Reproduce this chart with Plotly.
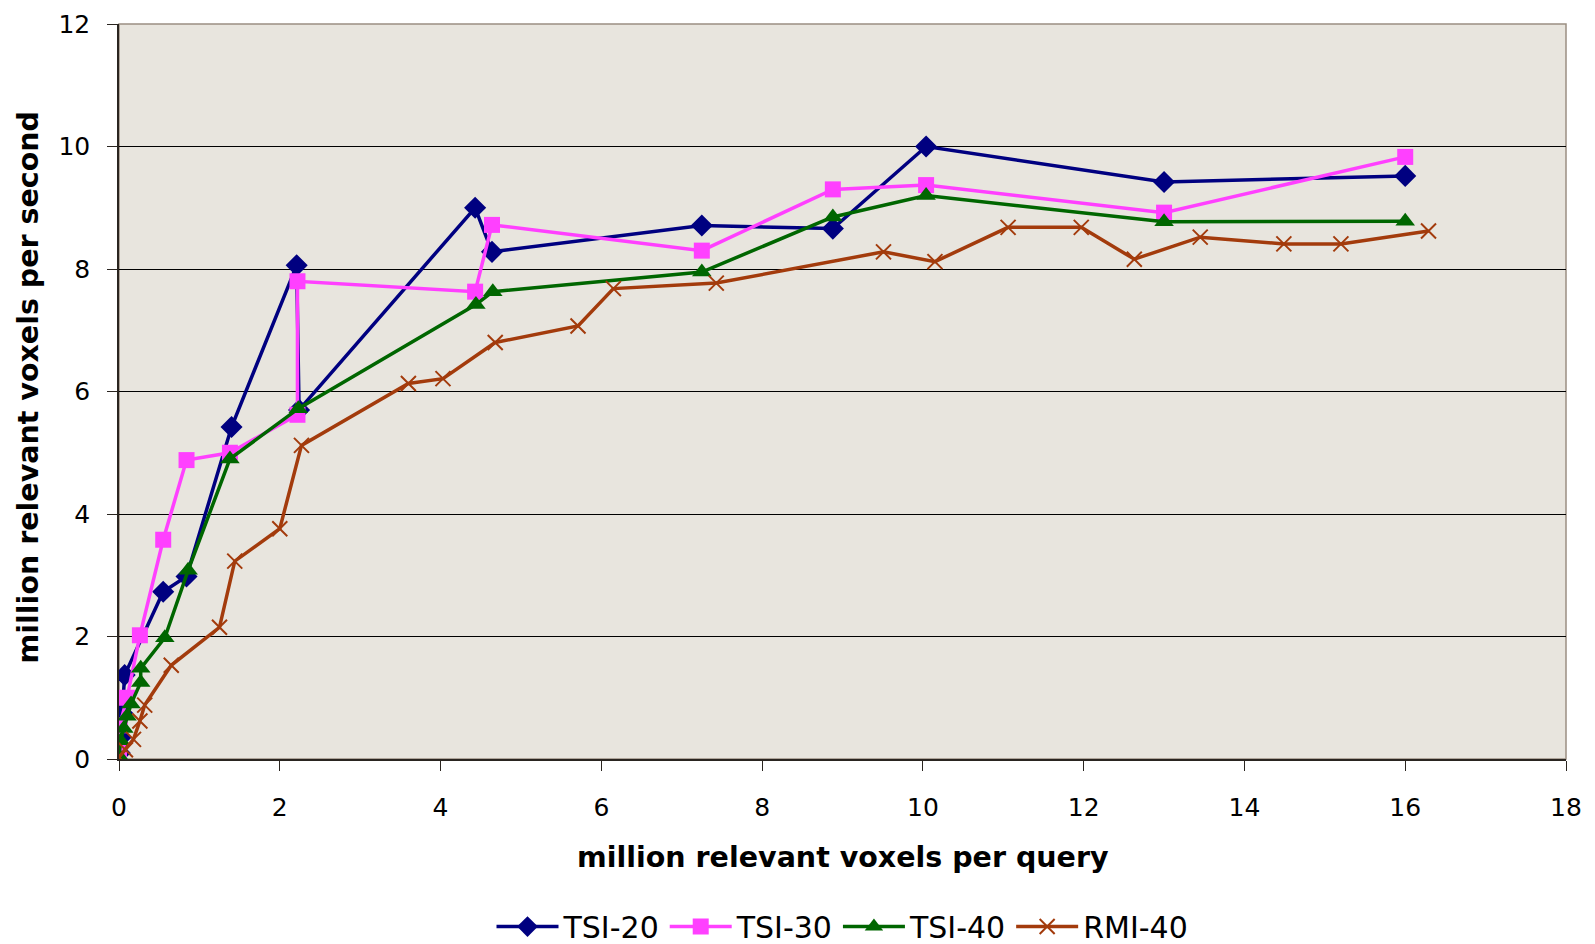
import plotly.graph_objects as go

# ---- data ----
tsi20_x = [0.01, 0.02, 0.04, 0.07, 0.55, 0.84, 1.40, 2.21, 2.24, 4.43, 4.64, 7.25, 8.88, 10.04, 13.0, 16.0]
tsi20_y = [0.10, 0.35, 0.75, 1.37, 2.73, 2.98, 5.42, 8.06, 5.70, 9.00, 8.28, 8.71, 8.66, 10.0, 9.42, 9.52]

tsi30_x = [0.0, 0.01, 0.10, 0.26, 0.55, 0.84, 1.38, 2.22, 2.22, 4.43, 4.64, 7.25, 8.88, 10.04, 13.0, 16.0]
tsi30_y = [0.10, 0.55, 1.00, 2.02, 3.58, 4.88, 5.00, 5.62, 7.80, 7.63, 8.72, 8.30, 9.30, 9.37, 8.92, 9.83]

tsi40_x = [0.0, 0.02, 0.06, 0.10, 0.15, 0.27, 0.27, 0.57, 0.86, 1.38, 2.23, 4.44, 4.65, 7.25, 8.88, 10.04, 13.0, 16.0]
tsi40_y = [0.05, 0.30, 0.50, 0.70, 0.90, 1.25, 1.48, 1.98, 3.08, 4.90, 5.72, 7.42, 7.63, 7.95, 8.85, 9.20, 8.77, 8.78]

rmi40_x = [0.0, 0.08, 0.18, 0.26, 0.32, 0.65, 1.25, 1.44, 2.00, 2.27, 3.60, 4.03, 4.68, 5.71, 6.15, 7.43,
           9.51, 10.15, 11.06, 11.97, 12.63, 13.45, 14.49, 15.20, 16.29]
rmi40_y = [0.03, 0.15, 0.32, 0.62, 0.88, 1.53, 2.15, 3.23, 3.76, 5.12, 6.13, 6.21, 6.80, 7.07, 7.68, 7.77,
           8.28, 8.12, 8.68, 8.68, 8.16, 8.52, 8.41, 8.41, 8.62]

x_ticks = [0, 2, 4, 6, 8, 10, 12, 14, 16, 18]
y_ticks = [0, 2, 4, 6, 8, 10, 12]

x_title = "million relevant voxels per query"
y_title = "million relevant voxels per second"

series = [
    ("TSI-20", tsi20_x, tsi20_y, "#000080", "diamond", 17),
    ("TSI-30", tsi30_x, tsi30_y, "#FF40FF", "square", 16),
    ("TSI-40", tsi40_x, tsi40_y, "#006600", "triangle-up", 17),
    ("RMI-40", rmi40_x, rmi40_y, "#A33B0C", "x-thin", 15),
]

FONT = "Verdana, DejaVu Sans, sans-serif"

fig = go.Figure()
for name, xs, ys, col, sym, sz in series:
    fig.add_trace(go.Scatter(
        x=xs, y=ys, name=name, mode="lines+markers",
        line=dict(color=col, width=3.5),
        marker=dict(symbol=sym, size=sz, color=col,
                    line=dict(color=col, width=2 if sym == "x-thin" else 0)),
    ))

fig.update_layout(
    width=1595, height=944,
    margin=dict(l=111, r=37, t=16, b=193, autoexpand=False),
    paper_bgcolor="white",
    plot_bgcolor="#E8E5DE",
    font=dict(family=FONT, size=25, color="black"),
    showlegend=True,
    legend=dict(orientation="h", x=0.5, xanchor="center", y=-0.228, yanchor="middle",
                font=dict(family="DejaVu Sans, sans-serif", size=30),
                itemwidth=62, tracegroupgap=0),
    xaxis=dict(range=[0, 18], tickvals=x_ticks, ticktext=[str(v) for v in x_ticks],
               showgrid=False, zeroline=False, showline=True, linecolor="#2A2520", linewidth=1.5,
               ticks="outside", ticklen=10, tickcolor="#2A2520", ticklabelstandoff=15,
               ticklabeloverflow="allow", automargin=False),
    yaxis=dict(range=[0, 12], tickvals=y_ticks, ticktext=[str(v) for v in y_ticks],
               showgrid=True, gridcolor="black", gridwidth=1, zeroline=False,
               showline=True, linecolor="#2A2520", linewidth=1.5,
               ticks="outside", ticklen=10, tickcolor="#2A2520", ticklabelstandoff=12,
               ticklabeloverflow="allow", automargin=False),
    annotations=[
        dict(text="<b>" + x_title + "</b>", xref="paper", yref="paper", x=0.5, y=-0.134,
             xanchor="center", yanchor="middle", showarrow=False, font=dict(size=28.5)),
        dict(text="<b>" + y_title + "</b>", xref="paper", yref="paper", x=-0.0625, y=0.505,
             xanchor="center", yanchor="middle", showarrow=False, textangle=-90, font=dict(size=28.5)),
    ],
)

# thin border on top/right of plot area
fig.add_shape(type="rect", xref="paper", yref="paper", x0=0, y0=0, x1=1, y1=1,
              line=dict(color="#9A8F82", width=1.5), layer="below")

fig.write_html("out.html")
